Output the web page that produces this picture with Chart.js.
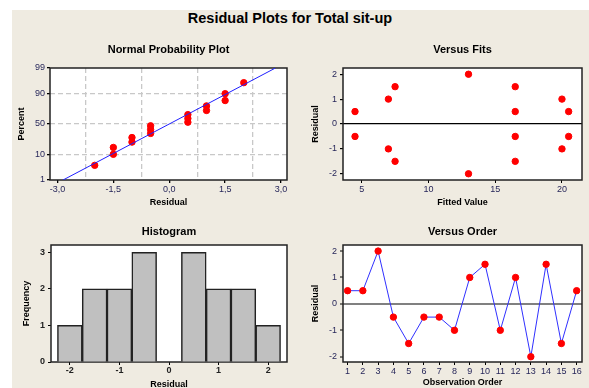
<!DOCTYPE html>
<html>
<head>
<meta charset="utf-8">
<script src="https://cdn.jsdelivr.net/npm/chart.js@4"></script>
<style>
  html, body { margin: 0; padding: 0; background: #fff; width: 589px; height: 388px; overflow: hidden; position: relative; }
  #bg { position: absolute; left: 12px; top: 10px; width: 577px; height: 378px; background: #efebe1; }
  #main { position: absolute; left: 0; top: 10px; width: 580px; text-align: center; font: bold 14.5px 'Liberation Sans', Arial, sans-serif; line-height: 17px; color: #000; }
  canvas { position: absolute; }
</style>
</head>
<body>
<div id="bg"></div>
<div id="main">Residual Plots for Total sit-up</div>
<canvas id="probChart" width="288" height="172" style="left:12px;top:38px"></canvas>
<canvas id="fitsChart" width="289" height="172" style="left:300px;top:38px"></canvas>
<canvas id="histChart" width="288" height="176" style="left:12px;top:218px"></canvas>
<canvas id="orderChart" width="289" height="176" style="left:300px;top:218px"></canvas>
<script>
// residuals in observation order, and fitted value for each observation
const obsOrder = [1, 2, 3, 4, 5, 6, 7, 8, 9, 10, 11, 12, 13, 14, 15, 16];
const residuals = [0.5, 0.5, 2, -0.5, -1.5, -0.5, -0.5, -1, 1, 1.5, -1, 1, -2, 1.5, -1.5, 0.5];
const fitted = [4.5, 16.5, 13, 4.5, 7.5, 16.5, 20.5, 7, 7, 7.5, 20, 20, 13, 16.5, 16.5, 20.5];

// normal probability plot
const probResiduals = [-2, -1.5, -1.5, -1, -1, -0.5, -0.5, -0.5, 0.5, 0.5, 0.5, 1, 1, 1.5, 1.5, 2];
const probPercent = [4.3, 10.4, 16.5, 22.6, 28.7, 34.8, 40.9, 47, 53, 59.1, 65.2, 71.3, 77.4, 83.5, 89.6, 95.7];
const fitLineResidual = [-2.85, 2.85];
const fitLinePercent = [1, 99];
const pctTicks = [1, 10, 50, 90, 99];
const probXTicks = [-3, -2.25, -1.5, -0.75, 0, 0.75, 1.5, 2.25, 3];

// histogram
const histCenters = [-2, -1.5, -1, -0.5, 0, 0.5, 1, 1.5, 2];
const histCounts = [1, 2, 2, 3, 0, 3, 2, 2, 1];
const histXTicks = [-2, -1, 0, 1, 2];
const histYTicks = [0, 1, 2, 3];

const fitsXTicks = [5, 10, 15, 20];
const residTicks = [-2, -1, 0, 1, 2];

Chart.defaults.font.family = "'Liberation Sans', Arial, sans-serif";
Chart.defaults.font.size = 9;
Chart.defaults.color = '#27275a';
Chart.defaults.animation = false;

// inverse normal cdf (Acklam)
function probit(p) {
  const a = [-39.69683028665376, 220.9460984245205, -275.9285104469687, 138.3577518672690, -30.66479806614716, 2.506628277459239];
  const b = [-54.47609879822406, 161.5858368580409, -155.6989798598866, 66.80131188771972, -13.28068155288572];
  const c = [-0.007784894002430293, -0.3223964580411365, -2.400758277161838, -2.549732539343734, 4.374664141464968, 2.938163982698783];
  const d = [0.007784695709041462, 0.3224671290700398, 2.445134137142996, 3.754408661907416];
  const pl = 0.02425;
  let q, r;
  if (p < pl) {
    q = Math.sqrt(-2 * Math.log(p));
    return (((((c[0]*q+c[1])*q+c[2])*q+c[3])*q+c[4])*q+c[5]) / ((((d[0]*q+d[1])*q+d[2])*q+d[3])*q+1);
  }
  if (p > 1 - pl) {
    q = Math.sqrt(-2 * Math.log(1 - p));
    return -(((((c[0]*q+c[1])*q+c[2])*q+c[3])*q+c[4])*q+c[5]) / ((((d[0]*q+d[1])*q+d[2])*q+d[3])*q+1);
  }
  q = p - 0.5; r = q * q;
  return (((((a[0]*r+a[1])*r+a[2])*r+a[3])*r+a[4])*r+a[5])*q / (((((b[0]*r+b[1])*r+b[2])*r+b[3])*r+b[4])*r+1);
}

// white plot area + black frame
const framePlugin = {
  id: 'frame',
  beforeDraw(chart) {
    const { ctx, chartArea: a } = chart;
    ctx.save();
    ctx.fillStyle = '#fff';
    ctx.fillRect(a.left, a.top, a.width, a.height);
    ctx.restore();
  },
  beforeDatasetsDraw(chart) {
    const { ctx, chartArea: a } = chart;
    ctx.save();
    ctx.strokeStyle = '#222';
    ctx.lineWidth = 1.5;
    ctx.strokeRect(a.left, a.top, a.width, a.height);
    ctx.restore();
  }
};

const setTicks = vals => scale => { scale.ticks = vals.map(v => ({ value: v })); };
const fixH = h => scale => { scale.height = h; };
const fixW = w => scale => { scale.width = w; };
const none = 'rgba(0,0,0,0)';

function panelTitle(text, top, bottom) {
  return { display: true, text: text, fullSize: false, color: '#000',
    font: { size: 11, weight: 'bold' }, padding: { top: top, bottom: bottom } };
}
function axisTitle(text, pad) {
  return { display: true, text: text, color: '#000', font: { size: 9, weight: 'bold' }, padding: pad };
}

// Normal Probability Plot
new Chart(document.getElementById('probChart'), {
  type: 'scatter',
  data: {
    datasets: [{
      type: 'line',
      data: fitLineResidual.map((x, i) => ({ x: x, y: probit(fitLinePercent[i] / 100) })),
      borderColor: '#2020ff', borderWidth: 1, pointRadius: 0, fill: false
    }, {
      data: probResiduals.map((x, i) => ({ x: x, y: probit(probPercent[i] / 100) })),
      backgroundColor: '#ff0000', borderColor: '#ff0000', pointRadius: 3.2
    }]
  },
  options: {
    responsive: false,
    layout: { padding: { left: 0, right: 13, top: 0, bottom: 0 } },
    plugins: { legend: { display: false }, tooltip: { enabled: false },
      title: panelTitle('Normal Probability Plot', 5.4, 11.4) },
    scales: {
      x: {
        min: -3.2, max: 3.16,
        afterBuildTicks: setTicks(probXTicks), afterFit: fixH(30),
        ticks: { autoSkip: false, maxRotation: 0, padding: 1,
          callback: v => (Math.abs(v % 1.5) < 1e-9 ? v.toFixed(1).replace('.', ',') : '') },
        grid: {
          color: c => (Math.abs(c.tick.value % 1.5) < 1e-9 ? none : '#c8c8c8'),
          tickColor: c => (Math.abs(c.tick.value % 1.5) < 1e-9 ? '#000' : none),
          lineWidth: 1.3, tickLength: 3
        },
        border: { display: false, dash: [5, 3] },
        title: axisTitle('Residual', { top: 0, bottom: 1.6 })
      },
      y: {
        min: probit(0.01), max: probit(0.99),
        afterBuildTicks: setTicks(pctTicks.map(p => probit(p / 100))), afterFit: fixW(38),
        ticks: { autoSkip: false, padding: 2, callback: (v, i) => pctTicks[i] },
        grid: {
          color: c => (c.index === 0 || c.index === pctTicks.length - 1 ? none : '#c8c8c8'),
          tickColor: '#000', lineWidth: 1.3, tickLength: 3
        },
        border: { display: false, dash: [5, 3] },
        title: axisTitle('Percent', { top: 4.1, bottom: 0 })
      }
    }
  },
  plugins: [framePlugin]
});

// Versus Fits
new Chart(document.getElementById('fitsChart'), {
  type: 'scatter',
  data: {
    datasets: [{
      data: fitted.map((x, i) => ({ x: x, y: residuals[i] })),
      backgroundColor: '#ff0000', borderColor: '#ff0000', pointRadius: 3.2
    }]
  },
  options: {
    responsive: false,
    layout: { padding: { left: 0, right: 7, top: 0, bottom: 0 } },
    plugins: { legend: { display: false }, tooltip: { enabled: false },
      title: panelTitle('Versus Fits', 5.4, 11.4) },
    scales: {
      x: {
        min: 3.6, max: 21.5,
        afterBuildTicks: setTicks(fitsXTicks), afterFit: fixH(30),
        ticks: { autoSkip: false, maxRotation: 0, padding: 1 },
        grid: { drawOnChartArea: false, tickColor: '#000', tickLength: 3 },
        border: { display: false },
        title: axisTitle('Fitted Value', { top: 0, bottom: 1.6 })
      },
      y: {
        min: -2.25, max: 2.25,
        afterBuildTicks: setTicks(residTicks), afterFit: fixW(43),
        ticks: { autoSkip: false, padding: 3 },
        grid: { color: c => (c.tick.value === 0 ? '#000' : none), lineWidth: 1.2, tickColor: '#000', tickLength: 3 },
        border: { display: false },
        title: axisTitle('Residual', { top: 10.1, bottom: 0 })
      }
    }
  },
  plugins: [framePlugin]
});

// Histogram
new Chart(document.getElementById('histChart'), {
  type: 'bar',
  data: {
    datasets: [{
      data: histCenters.map((x, i) => ({ x: x, y: histCounts[i] })),
      backgroundColor: '#c0c0c0', borderColor: '#222', borderWidth: 1.5,
      barPercentage: 1, categoryPercentage: 1
    }]
  },
  options: {
    responsive: false,
    layout: { padding: { left: 0, right: 13, top: 0, bottom: 0 } },
    plugins: { legend: { display: false }, tooltip: { enabled: false },
      title: panelTitle('Histogram', 7.4, 6.4) },
    scales: {
      x: {
        type: 'linear', offset: false,
        min: -2.38, max: 2.38,
        afterBuildTicks: setTicks(histXTicks), afterFit: fixH(32),
        ticks: { autoSkip: false, maxRotation: 0, padding: 0, color: '#222', font: { weight: 'bold' } },
        grid: { offset: false, drawOnChartArea: false, tickColor: '#000', tickLength: 3 },
        border: { display: false },
        title: axisTitle('Residual', { top: 0, bottom: 3.6 })
      },
      y: {
        min: 0, max: 3.2,
        afterBuildTicks: setTicks(histYTicks), afterFit: fixW(39),
        ticks: { autoSkip: false, padding: 3, color: '#222', font: { weight: 'bold' } },
        grid: { drawOnChartArea: false, tickColor: '#000', tickLength: 3 },
        border: { display: false },
        title: axisTitle('Frequency', { top: 9.3, bottom: 0 })
      }
    }
  },
  plugins: [framePlugin]
});

// Versus Order
new Chart(document.getElementById('orderChart'), {
  type: 'line',
  data: {
    datasets: [{
      data: obsOrder.map((x, i) => ({ x: x, y: residuals[i] })),
      borderColor: '#3030ff', borderWidth: 1, tension: 0, fill: false,
      pointBackgroundColor: '#ff0000', pointBorderColor: '#ff0000', pointRadius: 3.2
    }]
  },
  options: {
    responsive: false,
    layout: { padding: { left: 0, right: 7, top: 0, bottom: 0 } },
    plugins: { legend: { display: false }, tooltip: { enabled: false },
      title: panelTitle('Versus Order', 7.4, 6.4) },
    scales: {
      x: {
        type: 'linear',
        min: 0.7, max: 16.35,
        afterBuildTicks: setTicks(obsOrder), afterFit: fixH(32),
        ticks: { autoSkip: false, maxRotation: 0, padding: 1 },
        grid: { drawOnChartArea: false, tickColor: '#000', tickLength: 3 },
        border: { display: false },
        title: axisTitle('Observation Order', { top: 0, bottom: 5.6 })
      },
      y: {
        min: -2.2, max: 2.23,
        afterBuildTicks: setTicks(residTicks), afterFit: fixW(43),
        ticks: { autoSkip: false, padding: 3 },
        grid: { color: c => (c.tick.value === 0 ? '#808080' : none), lineWidth: 2, tickColor: '#000', tickWidth: 1, tickLength: 3 },
        border: { display: false },
        title: axisTitle('Residual', { top: 10.1, bottom: 0 })
      }
    }
  },
  plugins: [framePlugin]
});
</script>
</body>
</html>
